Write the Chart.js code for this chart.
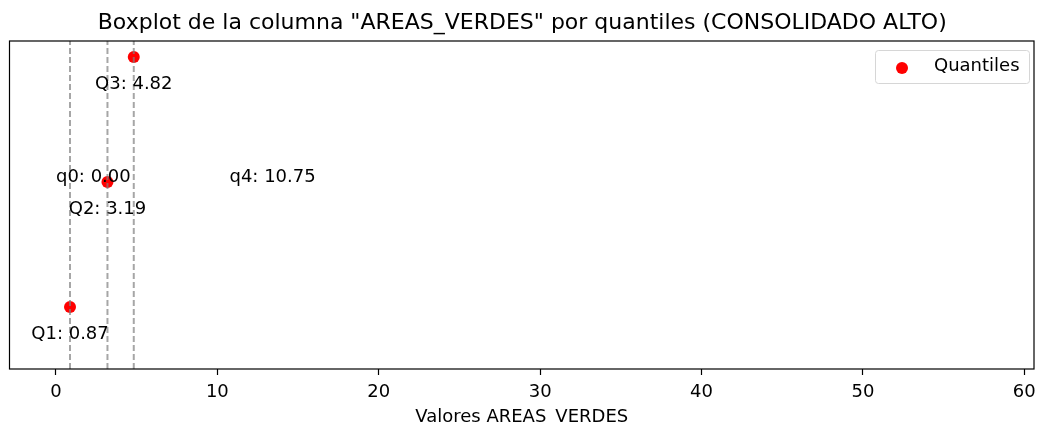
<!DOCTYPE html>
<html>
<head>
<meta charset="utf-8">
<script src="https://cdn.jsdelivr.net/npm/chart.js@4.4.0/dist/chart.umd.min.js"></script>
<style>
  html, body { margin: 0; padding: 0; background: #ffffff; }
  canvas { display: block; }
</style>
</head>
<body>
<canvas id="chart" width="1040" height="425"></canvas>
<script>
// Quartile points (one row each) and the extreme values written on the middle row
const quantileNames = ['Q1', 'Q2', 'Q3'];
const quantileValues = [0.87, 3.19, 4.82];
const quantileRows = [1, 2, 3];
const extremeNames = ['q0', 'q4'];
const extremeValues = [0.00, 10.75];
const extremeRow = 2;

// Axis ticks and ranges
const xTickValues = [0, 10, 20, 30, 40, 50, 60];
const xRange = [-2.88, 60.6];
const yRange = [0.504, 3.128];

const titleText = 'Boxplot de la columna "AREAS_VERDES" por quantiles (CONSOLIDADO ALTO)';
const xAxisTitle = 'Valores AREAS_VERDES';
const legendLabel = 'Quantiles';

const FONT = "'DejaVu Sans', sans-serif";
const TEXT_SIZE = 18;
const POINT_COLOR = '#ff0000';

// Frame, value labels and legend box drawn on top of the datasets
const overlay = {
  id: 'overlay',
  afterDatasetsDraw(chart) {
    const { ctx, chartArea: a, scales: { x, y } } = chart;
    ctx.save();

    ctx.fillStyle = '#000000';
    ctx.font = `${TEXT_SIZE}px ${FONT}`;
    ctx.textBaseline = 'alphabetic';

    // quartile labels centred under each point
    ctx.textAlign = 'center';
    quantileValues.forEach((v, i) => {
      ctx.fillText(`${quantileNames[i]}: ${v.toFixed(2)}`,
        x.getPixelForValue(v), y.getPixelForValue(quantileRows[i]) + 32);
    });

    // min / max labels starting at their value
    ctx.textAlign = 'left';
    extremeValues.forEach((v, i) => {
      ctx.fillText(`${extremeNames[i]}: ${v.toFixed(2)}`,
        x.getPixelForValue(v), y.getPixelForValue(extremeRow));
    });

    // axes frame
    ctx.strokeStyle = '#000000';
    ctx.lineWidth = 1.2;
    ctx.strokeRect(a.left, a.top, a.right - a.left, a.bottom - a.top);

    // legend box in the upper right corner
    const bw = 154, bh = 33;
    const bx = a.right - 5 - bw, by = a.top + 9;
    ctx.beginPath();
    ctx.roundRect(bx + 0.5, by + 0.5, bw, bh, 3);
    ctx.fillStyle = 'rgba(255,255,255,0.8)';
    ctx.fill();
    ctx.strokeStyle = '#d6d6d6';
    ctx.lineWidth = 1;
    ctx.stroke();

    ctx.beginPath();
    ctx.arc(bx + 27, by + 18, 6, 0, Math.PI * 2);
    ctx.fillStyle = POINT_COLOR;
    ctx.fill();

    ctx.fillStyle = '#000000';
    ctx.textAlign = 'left';
    ctx.fillText(legendLabel, bx + 59, by + 21);

    ctx.restore();
  }
};

const vlineDatasets = quantileValues.map(v => ({
  type: 'line',
  data: [{ x: v, y: yRange[0] }, { x: v, y: yRange[1] }],
  borderColor: 'rgba(128,128,128,0.7)',
  borderWidth: 2,
  borderDash: [6, 3],
  pointRadius: 0,
  fill: false,
  order: 0
}));

const pointDataset = {
  type: 'scatter',
  label: legendLabel,
  data: quantileValues.map((v, i) => ({ x: v, y: quantileRows[i] })),
  backgroundColor: POINT_COLOR,
  borderColor: POINT_COLOR,
  borderWidth: 0,
  pointRadius: 6,
  order: 1
};

new Chart(document.getElementById('chart').getContext('2d'), {
  type: 'scatter',
  data: { datasets: [...vlineDatasets, pointDataset] },
  options: {
    responsive: false,
    animation: false,
    events: [],
    layout: { padding: { left: 9.5, right: 5, top: 0, bottom: 0 } },
    plugins: {
      legend: { display: false },
      tooltip: { enabled: false },
      title: {
        display: true,
        text: titleText,
        color: '#000000',
        font: { family: FONT, size: 22, weight: 'normal' },
        padding: { top: 10, bottom: 4.6 }
      }
    },
    scales: {
      x: {
        type: 'linear',
        min: xRange[0],
        max: xRange[1],
        afterBuildTicks: scale => { scale.ticks = xTickValues.map(v => ({ value: v })); },
        afterFit: scale => {
          scale.height = 56;
          scale.paddingLeft = 0;
          scale.paddingRight = 0;
        },
        grid: { display: true, drawOnChartArea: false, drawTicks: true, tickLength: 6, tickColor: '#000000', tickWidth: 1.2 },
        border: { display: false },
        ticks: {
          color: '#000000',
          font: { family: FONT, size: TEXT_SIZE },
          padding: 7,
          maxRotation: 0,
          autoSkip: false,
          callback: v => String(v)
        },
        title: {
          display: true,
          text: xAxisTitle,
          color: '#000000',
          font: { family: FONT, size: TEXT_SIZE },
          padding: { top: 2, bottom: -3 }
        }
      },
      y: { type: 'linear', min: yRange[0], max: yRange[1], display: false }
    }
  },
  plugins: [overlay]
});
</script>
</body>
</html>
